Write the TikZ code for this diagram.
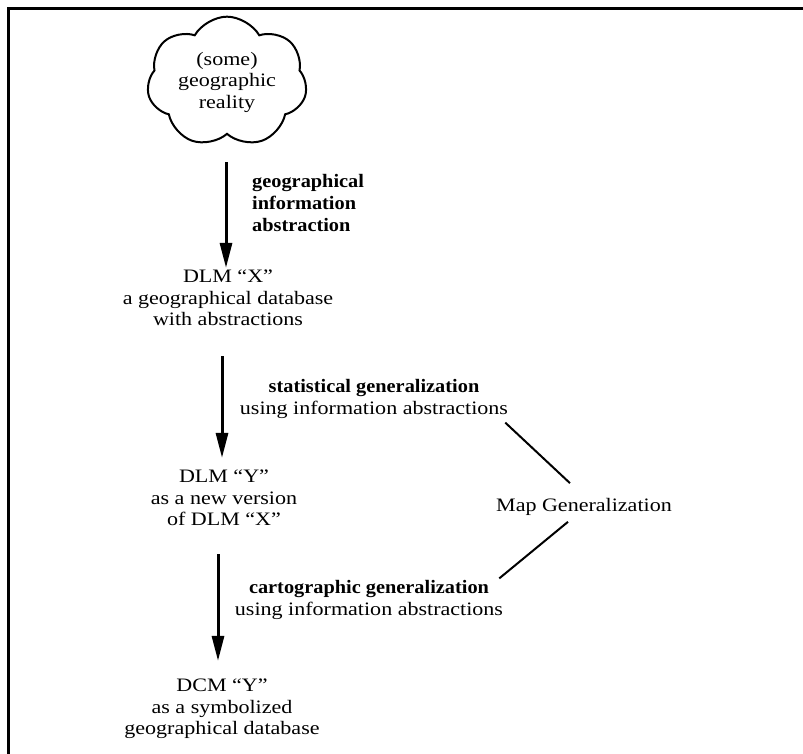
\documentclass[tikz,border=0pt]{standalone}
\usepackage{fontspec}
\setmainfont{Liberation Serif}[FakeStretch=1.16,BoldFeatures={FakeStretch=1.07}]
\usetikzlibrary{arrows.meta,shapes.symbols}
\begin{document}
\begin{tikzpicture}[x=1pt,y=-1pt,
  txt/.style={align=center,font=\fontsize{19}{21.5}\selectfont,inner sep=2pt},
  boldtxt/.style={align=left,font=\fontsize{19}{22}\selectfont\bfseries,inner sep=2pt},
  arr/.style={line width=3pt,-{Triangle[length=25pt,width=12pt]}},
  link/.style={line width=2pt},
  frame/.style={line width=3pt}
]
\useasboundingbox (0,0) rectangle (803,754);
\draw[frame] (8,754) -- (8,9) -- (803,9);

\node[cloud,draw,line width=2pt,cloud puffs=7,cloud puff arc=120,aspect=1.3,
  minimum width=160pt,minimum height=128pt,
  txt,inner sep=0pt] (cloud) at (227,82) {(some)\\geographic\\reality};

\node[boldtxt,anchor=north west] (lab1) at (250,172) {geographical\\information\\abstraction};

\node[txt] (dlmx) at (228,298) {DLM ``X''\\a geographical database\\with abstractions};

\node[txt] (lab2) at (374,399) {\textbf{statistical generalization}\\using information abstractions};

\node[txt] (dlmy) at (224,498) {DLM ``Y''\\as a new version\\of DLM ``X''};

\node[txt] (mg) at (584,507) {Map Generalization};

\node[txt] (lab3) at (369,600) {\textbf{cartographic generalization}\\using information abstractions};

\node[txt] (dcm) at (222,709) {DCM ``Y''\\as a symbolized\\geographical database};

\draw[arr] ([yshift=-27pt]cloud.south -| 226,0) -- (dlmx.north -| 226,0);
\draw[arr,shorten >=10pt] ([yshift=-28pt]dlmx.south -| 222,0) -- (dlmy.north -| 222,0);
\draw[arr,shorten >=16pt] ([yshift=-26pt]dlmy.south -| 218,0) -- (dcm.north -| 218,0);

\draw[link] ([shift={(-5,2)}]lab2.south east) -- ([shift={(-14,-13)}]mg.north);
\draw[link] ([shift={(-16,4)}]mg.south) -- ([shift={(-6,0)}]lab3.north east);
\end{tikzpicture}
\end{document}
